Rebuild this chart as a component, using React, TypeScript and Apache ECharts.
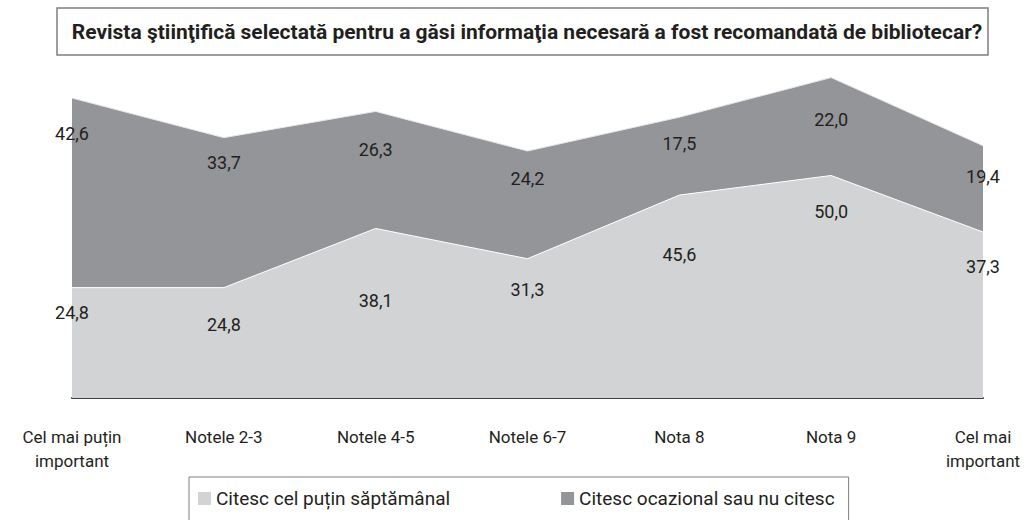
import React, { useEffect, useRef } from "react";
import * as echarts from "echarts";

const categories = [
  "Cel mai puțin\nimportant",
  "Notele 2-3",
  "Notele 4-5",
  "Notele 6-7",
  "Nota 8",
  "Nota 9",
  "Cel mai\nimportant",
];
const weeklyName = "Citesc cel puțin săptămânal";
const occasionalName = "Citesc ocazional sau nu citesc";
const weekly = [24.8, 24.8, 38.1, 31.3, 45.6, 50.0, 37.3];
const occasional = [42.6, 33.7, 26.3, 24.2, 17.5, 22.0, 19.4];
const titleText =
  "Revista ştiinţifică selectată pentru a găsi informaţia necesară a fost recomandată de bibliotecar?";

// label vertical offsets (px below each point)
const weeklyLabelDy = [25, 37, 72, 31, 59, 36, 34];
const occasionalLabelDy = [35, 25, 38, 27, 26, 42, 31];

const FONT = "Roboto";
const TEXT = "#231f20";

export default function App() {
  const ref = useRef<HTMLDivElement>(null);
  useEffect(() => {
    if (!ref.current) return;
    const chart = echarts.init(ref.current, null, { renderer: "svg" });
    const fmt = (v: number) => v.toFixed(1).replace(".", ",");
    const mk = (vals: number[], dys: number[]) =>
      vals.map((v, i) => ({
        value: v,
        label: { offset: [0, dys[i]] },
      }));
    const labelCfg = {
      show: true,
      position: "inside",
      color: TEXT,
      fontFamily: FONT,
      fontSize: 18,
      formatter: (p: any) => fmt(p.value),
    };
    chart.setOption({
      animation: false,
      textStyle: { fontFamily: FONT },
      grid: { left: 72, right: 46, top: 42, bottom: 122 },
      xAxis: {
        type: "category",
        data: categories,
        boundaryGap: false,
        axisLine: { show: true, lineStyle: { color: "#404040", width: 2 } },
        axisTick: { show: false },
        axisLabel: {
          color: TEXT,
          fontFamily: FONT,
          fontSize: 17,
          lineHeight: 24,
          margin: 27,
          interval: 0,
        },
      },
      yAxis: {
        type: "value",
        min: 0,
        max: 80,
        show: false,
      },
      legend: {
        left: 189,
        top: 477,
        padding: [12, 14, 40, 9],
        borderColor: "#7f7f7f",
        borderWidth: 1,
        itemWidth: 13,
        itemHeight: 13,
        itemGap: 111,
        itemTextGap: 8,
        icon: "rect",
        textStyle: { color: TEXT, fontFamily: FONT, fontSize: 19 },
        data: [weeklyName, occasionalName],
      },
      graphic: [
        {
          type: "rect",
          shape: { x: 57, y: 8, width: 931, height: 47 },
          style: { fill: "#ffffff", stroke: "#7f7f7f", lineWidth: 1.5 },
        },
        {
          type: "text",
          x: 527,
          y: 32,
          style: {
            text: titleText,
            fill: TEXT,
            font: `bold 21px ${FONT}`,
            textAlign: "center",
            textVerticalAlign: "middle",
          },
        },
      ],
      series: [
        {
          name: weeklyName,
          type: "line",
          stack: "total",
          data: mk(weekly, weeklyLabelDy),
          symbol: "circle",
          symbolSize: 0.01,
          itemStyle: { color: "#d1d3d4" },
          lineStyle: { color: "#ffffff", width: 1 },
          areaStyle: { color: "#d1d3d4", opacity: 1 },
          label: labelCfg,
        },
        {
          name: occasionalName,
          type: "line",
          stack: "total",
          data: mk(occasional, occasionalLabelDy),
          symbol: "circle",
          symbolSize: 0.01,
          itemStyle: { color: "#939598" },
          lineStyle: { color: "#e6e6e6", width: 1 },
          areaStyle: { color: "#939598", opacity: 1 },
          label: labelCfg,
        },
      ],
    });
    return () => chart.dispose();
  }, []);
  return (
    <div
      ref={ref}
      style={{ position: "absolute", left: 0, top: 0, width: 1029, height: 520 }}
    />
  );
}
